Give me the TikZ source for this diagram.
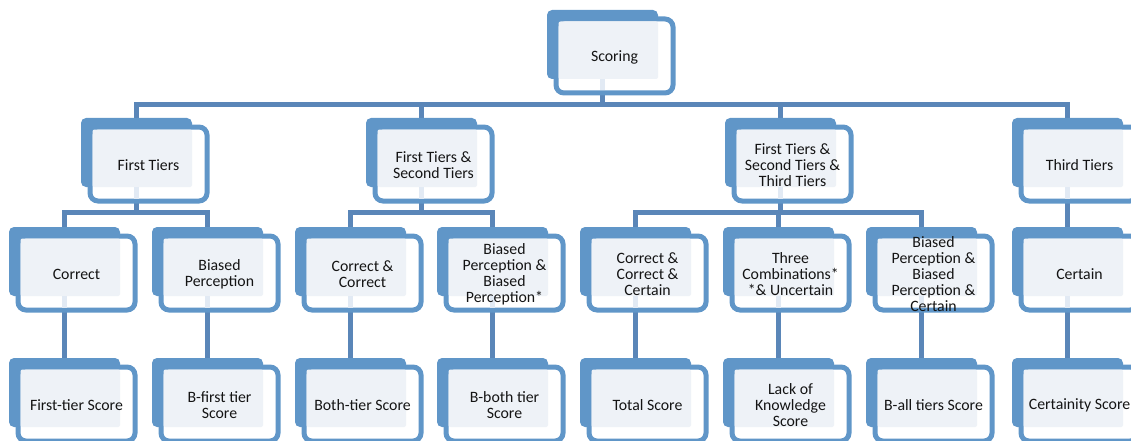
\documentclass[tikz,border=0pt]{standalone}
\usepackage{fontspec}
\setmainfont{Carlito}
\usetikzlibrary{calc}
\definecolor{boxblue}{HTML}{6096C8}
\definecolor{linkblue}{HTML}{5A86B8}
\definecolor{lightfill}{HTML}{EEF2F7}
\definecolor{palestrip}{HTML}{E2EAF4}
\tikzset{
  backbox/.style={fill=boxblue, rounded corners=5pt, minimum width=111pt, minimum height=69pt, inner sep=0pt, outer sep=0pt, anchor=north west},
  frontbox/.style={draw=boxblue, fill=white, line width=5pt, rounded corners=8pt, minimum width=117pt, minimum height=74pt, inner sep=0pt, outer sep=0pt, anchor=north west},
  innerfill/.style={fill=lightfill, rounded corners=2pt},
  lbl/.style={font=\fontsize{15.8}{16}\selectfont, align=center, inner sep=0pt, text=black!92},
  conn/.style={draw=linkblue, line width=5pt},
}
% #1 name, #2 x, #3 y (pixels, top-left of back box), #4 text, #5 strip (1/0)
\newcommand\boxelem[5]{%
  \node[backbox] (#1-b) at (#2,#3) {};
  \node[frontbox] (#1-f) at ({#2+9},{#3+9}) {};
  \fill[innerfill] ({#2+11.5},{#3+11.5}) rectangle ({#2+111},{#3+69});
  \ifnum#5=1 \fill[palestrip] ({#2+53},{#3+69}) rectangle ({#2+58},{#3+80.5});\fi
  \node[lbl] (#1) at ([yshift=-1.5pt]#1-f.center) {#4};
}
\begin{document}
\begin{tikzpicture}[x=1pt,y=-1pt]
\useasboundingbox (0,0) rectangle (1131,441);
\coordinate (bar1) at (0,105);
\coordinate (bar2) at (0,212);
\foreach \n/\x/\y in {sc/547/10, ft/81/118, fta/366/118, ftb/725/118, tt/1012/118,
  c1/9/227, c2/152/227, c3/295/227, c4/437/227, c5/580/227, c6/723/227, c7/866/227, c8/1012/227,
  s1/9/358, s2/152/358, s3/295/358, s4/437/358, s5/580/358, s6/723/358, s7/866/358, s8/1012/358}
  {\coordinate (\n-c) at ({\x+55.5},{\y+34.5});}
% connectors
\draw[conn] (sc-c) -- (sc-c |- bar1);
\draw[conn] (ft-c) |- (bar1 -| tt-c) -- (tt-c);
\draw[conn] (fta-c |- bar1) -- (fta-c);
\draw[conn] (ftb-c |- bar1) -- (ftb-c);
\draw[conn] (ft-c) -- (ft-c |- bar2);
\draw[conn] (c1-c) |- (bar2 -| c2-c) -- (c2-c);
\draw[conn] (fta-c) -- (fta-c |- bar2);
\draw[conn] (c3-c) |- (bar2 -| c4-c) -- (c4-c);
\draw[conn] (ftb-c) -- (ftb-c |- bar2);
\draw[conn] (c5-c) |- (bar2 -| c7-c) -- (c7-c);
\draw[conn] (c6-c |- bar2) -- (c6-c);
\draw[conn] (tt-c) -- (c8-c);
\foreach \i in {1,...,8} {\draw[conn] (c\i-c) -- (s\i-c);}
% boxes
\boxelem{sc}{547}{10}{Scoring}{1}
\boxelem{ft}{81}{118}{First Tiers}{1}
\boxelem{fta}{366}{118}{First Tiers \&\\Second Tiers}{1}
\boxelem{ftb}{725}{118}{First Tiers \&\\Second Tiers \&\\Third Tiers}{1}
\boxelem{tt}{1012}{118}{Third Tiers}{1}
\boxelem{c1}{9}{227}{Correct}{1}
\boxelem{c2}{152}{227}{Biased\\Perception}{1}
\boxelem{c3}{295}{227}{Correct \&\\Correct}{1}
\boxelem{c4}{437}{227}{Biased\\Perception \&\\Biased\\Perception*}{1}
\boxelem{c5}{580}{227}{Correct \&\\Correct \&\\Certain}{1}
\boxelem{c6}{723}{227}{Three\\Combinations*\\*\& Uncertain}{1}
\boxelem{c7}{866}{227}{Biased\\Perception \&\\Biased\\Perception \&\\Certain}{1}
\boxelem{c8}{1012}{227}{Certain}{1}
\boxelem{s1}{9}{358}{First-tier Score}{0}
\boxelem{s2}{152}{358}{B-first tier\\Score}{0}
\boxelem{s3}{295}{358}{Both-tier Score}{0}
\boxelem{s4}{437}{358}{B-both tier\\Score}{0}
\boxelem{s5}{580}{358}{Total Score}{0}
\boxelem{s6}{723}{358}{Lack of\\Knowledge\\Score}{0}
\boxelem{s7}{866}{358}{B-all tiers Score}{0}
\boxelem{s8}{1012}{358}{Certainity Score}{0}
\end{tikzpicture}
\end{document}
